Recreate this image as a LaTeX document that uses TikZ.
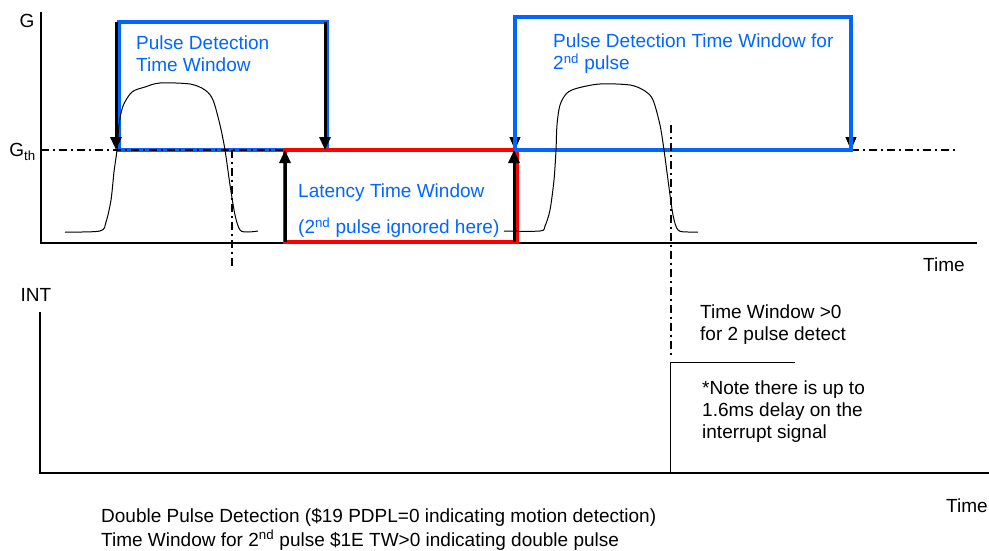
\documentclass[tikz,border=0pt]{standalone}
\usepackage{fontspec}
\setmainfont{Liberation Sans}
\usetikzlibrary{arrows.meta}
\definecolor{pdblue}{RGB}{0,102,255}
\definecolor{pdred}{RGB}{255,0,0}
\tikzset{
	txt/.style={inner sep=0pt,font=\fontsize{19}{22}\selectfont,align=left},
	bluetxt/.style={txt,text=pdblue},
	axis/.style={line width=1.3pt},
	win/.style={line width=4pt},
	thr/.style={line width=1.6pt,dash pattern=on 8pt off 4pt on 2pt off 4pt},
	pulse/.style={line width=1pt},
	mark arrow/.style={line width=3pt,->}
}
\begin{document}
\begin{tikzpicture}[x=1pt,y=-1pt,>={Triangle[length=13pt,width=11pt]}]
	\useasboundingbox (0,0) rectangle (989,551);
	% axes
	\coordinate (g0) at (41,243);
	\coordinate (i0) at (40,473);
	\draw[axis] (41,12) -- (g0) -- (977,243);
	\draw[axis] (40,312) -- (i0) -- (989,473);
	\node[txt] (glbl) at (27,21) {G};
	\node[txt,anchor=east] (gth) at (36,152) {G\textsubscript{th}};
	\node[txt] (intlbl) at (36,295) {INT};
	\node[txt] (time1) at (944,265) {Time};
	\node[txt] (time2) at (967,506) {Time};
	% first window
	\draw[win,pdblue] (119,22) rectangle (327,150);
	\draw[thr] (41,150) -- (955,150);
	% latency window
	\draw[win,pdred] (285,150) rectangle (517,242);
	% arrow heads of the second window
	\draw[->,line width=1pt] (515,138) -- (515,150);
	\draw[->,line width=1pt] (851,138) -- (851,150);
	\draw[win,pdblue] (515,17) rectangle (851,150);
	\draw[mark arrow] (116,22) -- (116,150);
	\draw[mark arrow] (325,22) -- (325,150);
	\draw[mark arrow] (285,242) -- (285,150);
	\draw[mark arrow] (514,242) -- (514,150);
	% pulses
	\draw[pulse] plot[smooth,tension=.5] coordinates {(65,232) (100,231) (106,222) (111,200) (114,172) (117,150) (119,125) (123,106) (132,92) (145,87) (160,83) (190,84) (205,90) (213,100) (220,125) (225,150) (230,185) (235,215) (240,230) (248,232) (258,231)};
	\draw[pulse] plot[smooth,tension=.5] coordinates {(504,231) (540,231) (545,226) (550,210) (554,180) (556,150) (557,125) (560,105) (567,93) (578,88) (600,84) (630,85) (645,91) (653,100) (660,125) (664,150) (668,180) (673,215) (678,230) (688,232) (698,232)};
	\draw[thr] (232,150) -- (232,267);
	\draw[thr] (671,125) -- (671,355);
	% interrupt
	\draw[pulse] (670,473) -- (670,362) -- (795,362);
	% labels
	\node[bluetxt,anchor=west] (win1) at (136,54) {Pulse Detection\\Time Window};
	\node[bluetxt,anchor=west] (win2) at (553,54) {Pulse Detection Time Window for\\2\textsuperscript{nd} pulse};
	\node[bluetxt,anchor=west] (lat1) at (298,193) {Latency Time Window};
	\node[bluetxt,anchor=west] (lat2) at (298,228) {(2\textsuperscript{nd} pulse ignored here)};
	\node[txt,anchor=west] (twin) at (700,325) {Time Window >0\\for 2 pulse detect};
	\node[txt,anchor=west] (note) at (702,412) {*Note there is up to\\1.6ms delay on the\\interrupt signal};
	\node[txt,anchor=west,font=\fontsize{19}{24}\selectfont] (caption) at (101,529) {Double Pulse Detection (\$19 PDPL=0 indicating motion detection)\\Time Window for 2\textsuperscript{nd} pulse \$1E TW>0 indicating double pulse};
\end{tikzpicture}
\end{document}
